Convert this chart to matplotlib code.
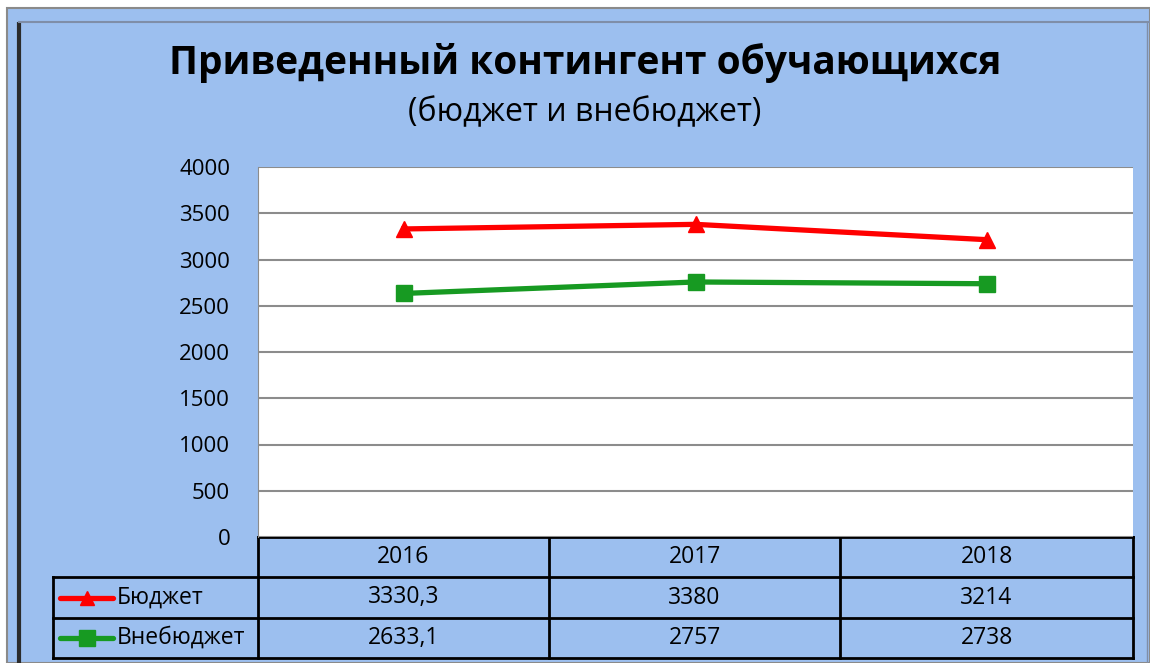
import matplotlib
matplotlib.use("Agg")
import matplotlib.pyplot as plt
from matplotlib.patches import Rectangle

plt.rcParams['font.family'] = ['Open Sans', 'DejaVu Sans']

years = ["2016", "2017", "2018"]
budget = [3330.3, 3380, 3214]
extra = [2633.1, 2757, 2738]
series_names = ["Бюджет", "Внебюджет"]
yticks = [0, 500, 1000, 1500, 2000, 2500, 3000, 3500, 4000]

BG = "#9cbfef"
RED = "#ff0000"
GREEN = "#179a22"
W, H = 1150, 663


def fmt(v):
    s = ("%g" % v)
    return s.replace(".", ",")


fig = plt.figure(figsize=(W / 100, H / 100), dpi=100)
fig.patch.set_facecolor("white")

# overlay in pixel coords for frame and table
bg = fig.add_axes([0, 0, 1, 1])
bg.set_xlim(0, W)
bg.set_ylim(H, 0)
bg.axis("off")
bg.add_patch(Rectangle((7, 8), W - 7, H - 8, facecolor=BG, edgecolor="#8a8a8a", lw=1.5))
bg.plot([18.5, 18.5], [22, H], color="#2b2b2b", lw=3, solid_capstyle="butt")
bg.plot([19, W], [22, 22], color="#7f8ea8", lw=1.5)
bg.plot([1147, 1147], [22, H], color="#7f8ea8", lw=1)

# plot area
x0, x1, ytop, ybot = 258, 1133, 167, 537
ax = fig.add_axes([x0 / W, 1 - ybot / H, (x1 - x0) / W, (ybot - ytop) / H])
ax.set_facecolor("white")
xs = [i + 0.5 for i in range(len(years))]
ax.plot(xs, budget, color=RED, lw=3.8, marker="^", ms=11, zorder=3)
ax.plot(xs, extra, color=GREEN, lw=3.8, marker="s", ms=11, zorder=3)
ax.set_xlim(0, len(years))
ax.set_ylim(0, 4000)
ax.set_yticks(yticks)
ax.set_yticklabels([str(t) for t in yticks], fontsize=16)
ax.set_xticks([])
ax.yaxis.grid(True, color="#8c8c8c", lw=1.5)
ax.set_axisbelow(True)
ax.tick_params(axis="y", length=0, pad=20)
for s in ["top", "right", "bottom"]:
    ax.spines[s].set_visible(False)
ax.spines["left"].set_color("#8c8c8c")

# titles
bg.text(585, 63, "Приведенный контингент обучающихся", ha="center", va="center",
        fontsize=28, fontweight="bold")
bg.text(585, 113, "(бюджет и внебюджет)", ha="center", va="center", fontsize=23)

# data table
rows = [537, 577, 618, 658]
cols = [x0, 549, 840, x1]
lk = dict(color="black", lw=2)
for y in rows:
    bg.plot([53 if y != rows[0] else x0, x1], [y, y], **lk)
for x in cols:
    bg.plot([x, x], [rows[0], rows[-1]], **lk)
bg.plot([53, 53], [rows[1], rows[-1]], **lk)

for i, yr in enumerate(years):
    cx = (cols[i] + cols[i + 1]) / 2
    bg.text(cx, (rows[0] + rows[1]) / 2, yr, ha="center", va="center", fontsize=16.5)
    bg.text(cx, (rows[1] + rows[2]) / 2, fmt(budget[i]), ha="center", va="center", fontsize=16.5)
    bg.text(cx, (rows[2] + rows[3]) / 2, fmt(extra[i]), ha="center", va="center", fontsize=16.5)

for j, (name, col, mk) in enumerate(zip(series_names, [RED, GREEN], ["^", "s"])):
    cy = (rows[j + 1] + rows[j + 2]) / 2
    bg.plot([60, 113], [cy, cy], color=col, lw=3.8, solid_capstyle="round")
    bg.plot([87], [cy], color=col, marker=mk, ms=10 if mk == "^" else 11)
    bg.text(117, cy, name, ha="left", va="center", fontsize=16.5)

fig.savefig("out.png", dpi=100)
